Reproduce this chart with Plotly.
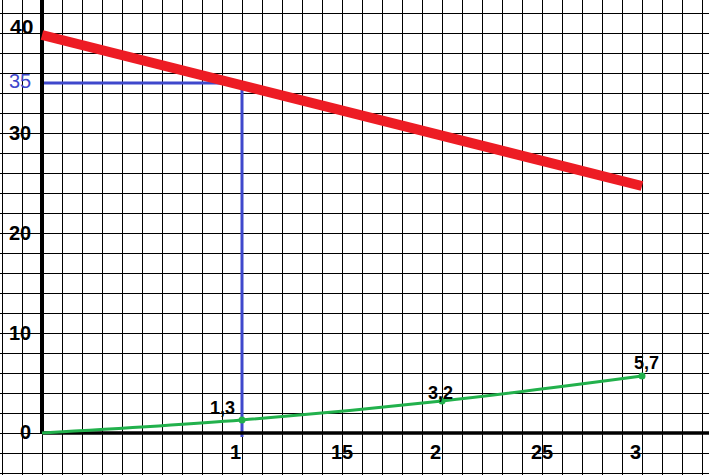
import plotly.graph_objects as go

# data
red_x = [0, 30]
red_y = [39.8, 24.7]
green_x = [0, 10, 20, 30]
green_y = [0, 1.3, 3.2, 5.7]
green_labels = ["", "1,3", "3,2", "5,7"]
guide_x = 10
guide_y = 35
ytick_vals = [40, 35, 30, 20, 10, 0]
ytick_text = ["40", "35", "30", "20", "10", "0"]
ytick_colors = ["black", "#3f48cc", "black", "black", "black", "black"]
xtick_vals = [10, 15, 20, 25, 30]
xtick_text = ["1", "15", "2", "25", "3"]

XR = [-2.1, 33.35]
YR = [-4.2, 43.3]

fig = go.Figure()

# blue guide lines
fig.add_trace(go.Scatter(x=[0, guide_x, guide_x], y=[guide_y, guide_y, -0.4],
                         mode="lines", line=dict(color="#3f48cc", width=3),
                         hoverinfo="skip"))
# axes
fig.add_trace(go.Scatter(x=[0, 0], y=[YR[1], 0], mode="lines",
                         line=dict(color="black", width=4), hoverinfo="skip"))
fig.add_trace(go.Scatter(x=[0, XR[1]], y=[0, 0], mode="lines",
                         line=dict(color="black", width=3.5), hoverinfo="skip"))
# red line
fig.add_trace(go.Scatter(x=red_x, y=red_y, mode="lines",
                         line=dict(color="#ed1c24", width=10)))
# green curve
fig.add_trace(go.Scatter(x=green_x, y=green_y, mode="lines",
                         line=dict(color="#22b14c", width=3, shape="spline")))
fig.add_trace(go.Scatter(x=green_x[1:], y=green_y[1:], mode="markers",
                         marker=dict(color="#22b14c", size=7)))

ann = []
yshift_map = {"40": (1, 7), "35": (0, 2), "0": (5, 1)}
for v, t, c in zip(ytick_vals, ytick_text, ytick_colors):
    bold = c == "black"
    dx, dy = yshift_map.get(t, (0, 0))
    ann.append(dict(x=-1.1, y=v, xref="x", yref="y",
                    text=f"<b>{t}</b>" if bold else t, showarrow=False,
                    xshift=dx, yshift=dy,
                    font=dict(family="Liberation Sans", size=21 if t == "40" else 20, color=c),
                    xanchor="center", yanchor="middle"))
for v, t in zip(xtick_vals, xtick_text):
    ann.append(dict(x=v, y=-1.9, xref="x", yref="y", text=f"<b>{t}</b>", showarrow=False,
                    xshift=-7 if t in ("1", "2", "3") else 0,
                    font=dict(family="Liberation Sans", size=20, color="black"),
                    xanchor="center", yanchor="middle"))
shifts = {"1,3": (-20, 12), "3,2": (-2, 8), "5,7": (4, 13)}
for x, y, t in zip(green_x, green_y, green_labels):
    if not t:
        continue
    dx, dy = shifts[t]
    ann.append(dict(x=x, y=y, xref="x", yref="y", text=f"<b>{t}</b>", showarrow=False,
                    xshift=dx, yshift=dy,
                    font=dict(family="Liberation Sans", size=18, color="black"),
                    xanchor="center", yanchor="middle"))

fig.update_layout(
    width=709, height=475,
    margin=dict(l=0, r=0, t=0, b=0),
    paper_bgcolor="white", plot_bgcolor="white",
    showlegend=False,
    annotations=ann,
    xaxis=dict(range=XR, tick0=0, dtick=1, showgrid=True, gridcolor="black",
               gridwidth=1, zeroline=False, showticklabels=False, fixedrange=True),
    yaxis=dict(range=YR, tick0=0, dtick=2, showgrid=True, gridcolor="black",
               gridwidth=1, zeroline=False, showticklabels=False, fixedrange=True),
)

fig.write_html("out.html", config={"displayModeBar": False},
               post_script="document.body.style.margin='0';document.body.style.overflow='hidden';")
